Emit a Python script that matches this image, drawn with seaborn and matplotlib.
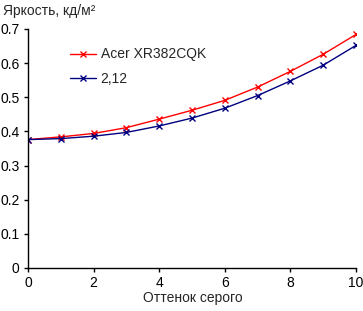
import numpy as np
import pandas as pd
import seaborn as sns
import matplotlib.pyplot as plt

sns.set_style("ticks")
plt.rcParams['font.family'] = ['Liberation Sans', 'DejaVu Sans']

# Data
shade = list(range(11))
acer = [0.376, 0.384, 0.394, 0.411, 0.436, 0.462, 0.491, 0.530, 0.576, 0.626, 0.684]
gamma = [0.376, 0.379, 0.386, 0.397, 0.416, 0.439, 0.468, 0.505, 0.548, 0.594, 0.652]
names = ['Acer XR382CQK', '2,12']
colors = ['#ff0000', '#000080']

fig = plt.figure(figsize=(3.63, 3.11), dpi=100)
ax = fig.add_axes([0.0771, 0.1383, 0.9037, 0.7685])

for vals, name, c in zip([acer, gamma], names, colors):
    sns.lineplot(x=shade, y=vals, color=c, marker='x', markersize=4,
                 markeredgecolor=c, markeredgewidth=1, linewidth=1,
                 label=name, ax=ax)

ax.set_xlim(0, 10)
ax.set_ylim(0, 0.7)
ax.set_xticks(range(0, 11, 2))
ax.set_yticks(np.arange(0, 0.71, 0.1))
ax.set_yticklabels(['0', '0.1', '0.2', '0.3', '0.4', '0.5', '0.6', '0.7'])
ax.tick_params(labelsize=10, length=3, width=1, colors='black', pad=3)
for s in ['top', 'right']:
    ax.spines[s].set_visible(False)
for s in ['left', 'bottom']:
    ax.spines[s].set_linewidth(1)
    ax.spines[s].set_color('black')
ax.set_xlabel('')
ax.set_ylabel('')

fig.text(0.008, 0.965, 'Яркость, кд/м²', fontsize=10, va='center', ha='left')
fig.text(0.53, 0.042, 'Оттенок серого', fontsize=10, va='center', ha='center')

leg = ax.legend(loc='upper left', bbox_to_anchor=(0.09, 0.975), frameon=False,
                fontsize=10, handlelength=1.9, handletextpad=0.3, labelspacing=0.75)

fig.savefig('out.png', dpi=100)
